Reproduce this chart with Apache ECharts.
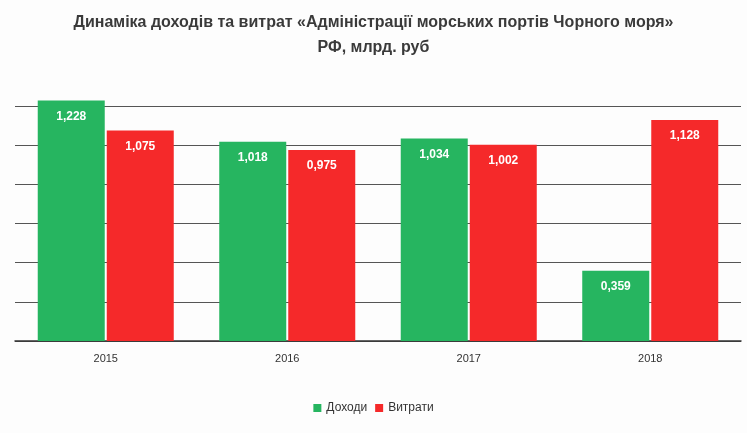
<!DOCTYPE html>
<html>
<head>
<meta charset="utf-8">
<script src="https://cdn.jsdelivr.net/npm/echarts@6/dist/echarts.min.js"></script>
<style>html,body{margin:0;padding:0;background:#fff}#chart{width:747px;height:433px}</style>
</head>
<body>
<div id="chart"></div>
<script>
var years = ['2015', '2016', '2017', '2018'];
var incomes = [1.228, 1.018, 1.034, 0.359];
var expenses = [1.075, 0.975, 1.002, 1.128];

function fmt(p) {
	return p.value.toFixed(3).replace('.', ',');
}

var label = {
	show: true,
	position: 'insideTop',
	distance: 10,
	color: '#fff',
	fontWeight: 'bold',
	fontSize: 12,
	fontFamily: 'Liberation Sans',
	formatter: fmt
};

var option = {
	backgroundColor: '#fdfdfd',
	title: {
		text: 'Динаміка доходів та витрат «Адміністрації морських портів Чорного моря»\nРФ, млрд. руб',
		left: 'center',
		top: 5,
		textStyle: {
			fontSize: 16,
			fontWeight: 'bold',
			color: '#3a3a3a',
			lineHeight: 25,
			fontFamily: 'Liberation Sans'
		}
	},
	legend: {
		bottom: 14,
		itemWidth: 8,
		itemHeight: 8,
		icon: 'rect',
		textStyle: { fontSize: 12, color: '#333', fontFamily: 'Liberation Sans' }
	},
	grid: { left: 15, right: 6, top: 106, bottom: 92 },
	xAxis: {
		type: 'category',
		data: years,
		axisTick: { show: false },
		axisLine: { lineStyle: { color: '#333', width: 1.5 } },
		axisLabel: { color: '#333', fontSize: 11, margin: 12, fontFamily: 'Liberation Sans' }
	},
	yAxis: {
		type: 'value',
		min: 0,
		max: 1.2,
		interval: 0.2,
		axisLabel: { show: false },
		splitLine: { lineStyle: { color: '#555' } }
	},
	series: [
		{
			name: 'Доходи',
			type: 'bar',
			data: incomes,
			barWidth: 67,
			barGap: '3%',
			clip: false,
			itemStyle: { color: '#26b560' },
			label: label
		},
		{
			name: 'Витрати',
			type: 'bar',
			data: expenses,
			barWidth: 67,
			clip: false,
			itemStyle: { color: '#f5292a' },
			label: label
		}
	]
};

echarts.init(document.getElementById('chart')).setOption(option);
</script>
</body>
</html>
